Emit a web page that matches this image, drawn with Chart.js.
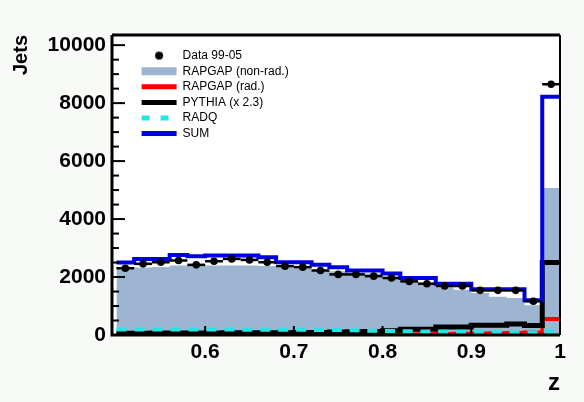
<!DOCTYPE html>
<html lang="en">
<head>
<meta charset="UTF-8">
<title>Jets vs z</title>
<script src="https://cdn.jsdelivr.net/npm/chart.js"></script>
<style>
  html, body { margin: 0; padding: 0; background: #f8faf7; }
</style>
</head>
<body>
<div style="width: 584px; height: 402px;">
  <canvas id="zChart"></canvas>
</div>
<script>
// bins in z (lower edges), 0.02 wide, last one ends at 1
const binLow = [0.50, 0.52, 0.54, 0.56, 0.58, 0.60, 0.62, 0.64, 0.66, 0.68,
                0.70, 0.72, 0.74, 0.76, 0.78, 0.80, 0.82, 0.84, 0.86, 0.88,
                0.90, 0.92, 0.94, 0.96, 0.98];
const binHigh = 1.0;
const binMid = [0.51, 0.53, 0.55, 0.57, 0.59, 0.61, 0.63, 0.65, 0.67, 0.69,
                0.71, 0.73, 0.75, 0.77, 0.79, 0.81, 0.83, 0.85, 0.87, 0.89,
                0.91, 0.93, 0.95, 0.97, 0.99];

const data9905 = [2305, 2455, 2510, 2570, 2420, 2545, 2625, 2590, 2510, 2375,
                  2340, 2225, 2090, 2090, 2030, 1965, 1850, 1770, 1690, 1690,
                  1540, 1540, 1540, 1165, 8650];
const rapgapNonRad = [2300, 2330, 2350, 2400, 2400, 2400, 2400, 2400, 2380, 2330,
                      2300, 2240, 2200, 2150, 2120, 2020, 1900, 1800, 1650, 1560,
                      1450, 1320, 1280, 1030, 5070];
const rapgapRad = [15, 15, 15, 15, 15, 15, 15, 15, 15, 15,
                   15, 15, 20, 20, 20, 25, 25, 30, 35, 40,
                   50, 60, 70, 90, 550];
const pythia = [60, 60, 70, 70, 70, 70, 80, 80, 80, 80,
                90, 90, 100, 110, 120, 150, 200, 200, 280, 280,
                340, 340, 380, 330, 2500];
const radq = [190, 190, 190, 190, 190, 190, 190, 185, 185, 180,
              180, 175, 170, 160, 150, 140, 130, 120, 115, 110,
              100, 95, 90, 90, 150];
const sumMC = [2500, 2620, 2620, 2760, 2720, 2740, 2740, 2740, 2680, 2510,
               2510, 2420, 2340, 2225, 2225, 2120, 1965, 1965, 1770, 1770,
               1575, 1575, 1575, 1200, 8220];

const xTickVals = [0.6, 0.7, 0.8, 0.9, 1];
const yTickVals = [0, 2000, 4000, 6000, 8000, 10000];

// histogram outline points at bin edges (used with stepped lines)
function steps(vals) {
  const pts = vals.map((v, i) => ({ x: binLow[i], y: v }));
  pts.push({ x: binHigh, y: vals[vals.length - 1] });
  return pts;
}

const dot = document.createElement('canvas');
dot.width = dot.height = 10;
const dctx = dot.getContext('2d');
dctx.fillStyle = '#000';
dctx.beginPath();
dctx.arc(5, 5, 4, 0, Math.PI * 2);
dctx.fill();

const axisFont = "'Liberation Sans', Arial, sans-serif";

const bg = {
  id: 'bg',
  beforeDraw(chart) {
    const ctx = chart.ctx;
    ctx.save();
    ctx.fillStyle = '#f8faf7';
    ctx.fillRect(0, 0, chart.width, chart.height);
    ctx.fillStyle = '#ffffff';
    const a = chart.chartArea;
    ctx.fillRect(a.left, a.top, a.right - a.left, a.bottom - a.top);
    ctx.restore();
  }
};

// legend sits inside the frame, top left
const legendSpot = {
  id: 'legendSpot',
  afterLayout(chart) {
    const lg = chart.legend;
    if (!lg) return;
    const w = lg.width, h = lg.height;
    lg.left = chart.chartArea.left + 26;
    lg.top = chart.chartArea.top + 11;
    lg.right = lg.left + w;
    lg.bottom = lg.top + h;
  }
};

// ROOT style frame with inward ticks
const frame = {
  id: 'frame',
  afterDatasetsDraw(chart) {
    const { ctx, chartArea: a, scales: { x, y } } = chart;
    ctx.save();
    ctx.strokeStyle = '#000';
    ctx.lineWidth = 2;
    for (let v = 0; v <= 10000; v += 500) {
      const py = y.getPixelForValue(v);
      const len = v % 2000 === 0 ? 13 : 7;
      ctx.beginPath();
      ctx.moveTo(a.left, py);
      ctx.lineTo(a.left + len, py);
      ctx.stroke();
    }
    xTickVals.forEach(v => {
      const px = x.getPixelForValue(v);
      ctx.beginPath();
      ctx.moveTo(px, a.bottom);
      ctx.lineTo(px, a.bottom - 9);
      ctx.stroke();
    });
    ctx.lineWidth = 3;
    ctx.beginPath();
    ctx.moveTo(a.left, a.top);
    ctx.lineTo(a.left, a.bottom);
    ctx.lineTo(a.right, a.bottom);
    ctx.moveTo(a.left, a.top);
    ctx.lineTo(a.right, a.top);
    ctx.stroke();
    ctx.lineWidth = 2;
    ctx.beginPath();
    ctx.moveTo(a.right, a.top);
    ctx.lineTo(a.right, a.bottom);
    ctx.stroke();
    ctx.restore();
  }
};

const histLine = (label, vals, color, width, order, extra) => Object.assign({
  label: label,
  data: steps(vals),
  stepped: true,
  borderColor: color,
  backgroundColor: color,
  borderWidth: width,
  pointRadius: 0,
  fill: false,
  order: order,
  legendColor: color
}, extra || {});

const datasets = [
  {
    label: 'Data 99-05',
    type: 'scatter',
    data: binMid.map((z, i) => ({ x: z, y: data9905[i] })),
    backgroundColor: '#000',
    borderColor: '#000',
    pointRadius: 3.8,
    pointBorderWidth: 0,
    order: 0,
    legendDot: true
  },
  histLine('RAPGAP (non-rad.)', rapgapNonRad, '#9eb5d1', 0, 6, { fill: 'origin', legendWidth: 8 }),
  histLine('RAPGAP (rad.)', rapgapRad, '#ff0000', 4, 4),
  histLine('PYTHIA (x 2.3)', pythia, '#000000', 5, 3),
  histLine('RADQ', radq, '#22e6e6', 4, 2, { borderDash: [10, 8] }),
  histLine('SUM', sumMC, '#0000e6', 4, 1),
  {
    label: '',
    type: 'scatter',
    data: binMid.map((z, i) => ({ x: z, y: data9905[i] })),
    pointStyle: 'line',
    pointRadius: 8.9,
    borderColor: '#000',
    pointBorderWidth: 2.5,
    order: 0
  }
];

new Chart(document.getElementById('zChart'), {
  type: 'line',
  data: { datasets: datasets },
  options: {
    responsive: true,
    maintainAspectRatio: false,
    animation: false,
    events: [],
    layout: { padding: { top: 35, right: 24, left: 0, bottom: 0 } },
    plugins: {
      tooltip: { enabled: false },
      legend: {
        position: 'chartArea',
        align: 'start',
        labels: {
          usePointStyle: true,
          pointStyleWidth: 35,
          boxHeight: 6,
          padding: 3.6,
          color: '#000',
          font: { family: "'Liberation Sans', Arial, sans-serif", size: 12 },
          generateLabels: chart => chart.data.datasets.map((ds, i) => ({
            text: ds.label,
            datasetIndex: i,
            hidden: false,
            pointStyle: ds.legendDot ? dot : 'line',
            strokeStyle: ds.legendColor || '#000',
            fillStyle: ds.legendColor || '#000',
            lineWidth: ds.legendWidth || 5,
            lineDash: ds.borderDash ? [8, 11] : [],
            fontColor: '#000'
          })).filter(it => it.text)
        }
      }
    },
    scales: {
      x: {
        type: 'linear',
        min: 0.495,
        max: 1.0,
        grid: { display: false, drawTicks: false },
        border: { display: false },
        afterBuildTicks: s => { s.ticks = xTickVals.map(v => ({ value: v })); },
        afterFit: s => { s.height = 67; },
        ticks: {
          color: '#000',
          padding: 5,
          maxRotation: 0,
          callback: v => (v === 1 ? '1' : v.toFixed(1)),
          font: { family: axisFont, weight: 'bold', size: 21 }
        },
        title: {
          display: true,
          text: 'z',
          align: 'end',
          color: '#000',
          padding: { bottom: 4 },
          font: { family: axisFont, weight: 'bold', size: 24 }
        }
      },
      y: {
        min: 0,
        max: 10350,
        grid: { display: false, drawTicks: false },
        border: { display: false },
        afterBuildTicks: s => { s.ticks = yTickVals.map(v => ({ value: v })); },
        afterFit: s => { s.width = 112; },
        ticks: {
          color: '#000',
          padding: 6,
          callback: v => String(v),
          font: { family: axisFont, weight: 'bold', size: 21 }
        },
        title: {
          display: true,
          text: 'Jets',
          align: 'end',
          color: '#000',
          padding: { top: 9 },
          font: { family: axisFont, weight: 'bold', size: 20 }
        }
      }
    }
  },
  plugins: [bg, legendSpot, frame]
});
</script>
</body>
</html>
